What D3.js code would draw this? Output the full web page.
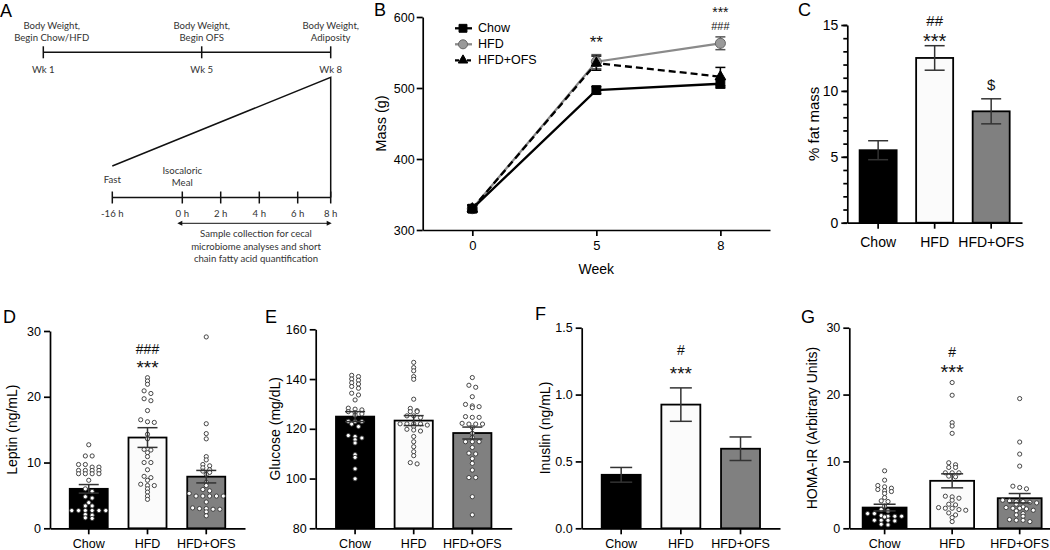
<!DOCTYPE html>
<html><head><meta charset="utf-8">
<script src="https://cdn.jsdelivr.net/npm/d3@7"></script>
<style>body{margin:0;background:#fff}svg{display:block}</style>
</head><body><svg id="c" width="1050" height="550"></svg>
<script>
// ---------------- DATA ----------------
const groups = ["Chow", "HFD", "HFD+OFS"];

// Panel A (study design)
const weekMarks = [1, 5, 8];
const weekTopText = [["Body Weight,", "Begin Chow/HFD"], ["Body Weight,", "Begin OFS"], ["Body Weight,", "Adiposity"]];
const hourMarks = [-16, 0, 2, 4, 6, 8];
const sampleText = ["Sample collection for cecal", "microbiome analyses and short", "chain fatty acid quantification"];

// Panel B (body mass)
const weeks = ["0", "5", "8"];
const massChow = [330, 497, 506], massChowSem = [5, 5, 6];
const massHFD = [330, 537, 563], massHFDSem = [5, 10, 9];
const massOFS = [330, 535, 516], massOFSSem = [5, 10, 13];
const massTicks = [300, 400, 500, 600];

// Panel C (% fat mass)
const fatMean = [5.5, 12.5, 8.45], fatSem = [0.72, 0.93, 0.95];
const fatTicks = [0, 5, 10, 15];

// Panel D (leptin)
const leptinMean = [6.0, 13.8, 7.85], leptinSem = [0.65, 1.5, 0.95];
const leptinChow = [12.7, 11.0, 11.0, 9.7, 9.7, 9.3, 9.3, 8.8, 8.8, 8.8, 8.8, 8.3, 8.3, 8.3, 8.3, 7.3, 6.0, 5.6, 4.8, 4.6, 3.9, 3.4, 3.4, 2.7, 2.7, 2.7, 2.7, 2.7, 2.7, 2.1, 2.0, 1.6, 1.5];
const leptinHFD = [22.9, 22.4, 21.9, 20.9, 20.5, 19.7, 19.4, 17.9, 16.5, 16.2, 16.1, 14.3, 13.6, 12.0, 11.9, 11.5, 10.9, 10.0, 10.0, 8.9, 7.9, 7.7, 7.3, 6.7, 6.5, 6.5, 6.0, 5.5, 4.9, 4.4];
const leptinOFS = [29.1, 15.9, 14.4, 13.6, 10.9, 10.4, 9.7, 9.5, 9.2, 8.9, 8.7, 8.5, 8.2, 7.0, 6.5, 5.9, 5.7, 5.3, 4.9, 4.9, 4.9, 4.9, 4.9, 4.0, 3.1, 3.0, 3.0, 2.9, 2.9, 2.5, 1.9];
const leptinTicks = [0, 10, 20, 30];

// Panel E (glucose)
const glucoseMean = [124.9, 123.3, 118.3], glucoseSem = [2.0, 2.0, 2.4];
const glucoseChow = [141.5, 141, 140, 139.5, 138.5, 138, 137, 136.3, 134.3, 133.6, 131.6, 128.3, 127.9, 127.6, 126.9, 126.5, 126, 125.5, 123, 122.9, 122.9, 121.9, 120.9, 117.3, 116.9, 116.3, 115.6, 114.3, 109.6, 108.5, 103.9, 99.9];
const glucoseHFD = [146.7, 144.6, 143.3, 141, 139.9, 131.9, 128.2, 127.3, 126.9, 126.9, 125.2, 125.2, 124.5, 122, 122, 121.5, 122, 122, 120.9, 119.8, 119.5, 119.1, 116.9, 114.8, 112.8, 110.8, 109.2, 106.4, 105.9];
const glucoseOFS = [140.6, 137.5, 136.7, 132.9, 129.8, 129.2, 128.9, 128.5, 124.9, 124.6, 124.6, 122.2, 121.9, 121.9, 121.9, 120.5, 118.2, 116.5, 114.8, 114.8, 114.8, 112.5, 110.2, 109.9, 108, 106.1, 103.4, 100.4, 100.4, 92.7, 85.4];
const glucoseTicks = [80, 100, 120, 140, 160];

// Panel F (insulin)
const insulinMean = [0.40, 0.925, 0.595], insulinSem = [0.055, 0.125, 0.088];
const insulinTicks = [0, 0.5, 1.0, 1.5];

// Panel G (HOMA-IR)
const homaMean = [3.1, 7.1, 4.5], homaSem = [0.5, 1.05, 0.7];
const homaChow = [8.6, 7.2, 6.4, 6.2, 6.0, 5.8, 5.6, 5.5, 5.2, 4.6, 4.1, 4.0, 3.3, 2.8, 2.6, 2.2, 2.2, 1.9, 1.8, 1.8, 1.8, 1.7, 1.2, 1.2, 1.2, 1.1, 0.6, 0.5];
const homaHFD = [21.8, 19.9, 15.8, 15.3, 14.2, 9.8, 9.5, 9.1, 9.1, 8.3, 8.3, 8.3, 7.8, 7.7, 4.8, 4.7, 4.5, 4.2, 3.6, 3.5, 3.1, 3.0, 3.0, 2.8, 2.7, 2.3, 2.0, 1.6, 1.0];
const homaOFS = [19.4, 12.9, 11.1, 9.3, 6.3, 6.1, 5.9, 4.2, 4.1, 4.0, 4.0, 3.9, 3.8, 3.6, 3.2, 3.1, 3.0, 3.0, 2.9, 2.7, 2.6, 2.2, 2.0, 1.8, 1.3, 1.2, 1.2, 1.0];
const homaTicks = [0, 10, 20, 30];

// ---------------- DRAWING ----------------
const FONT = '"Liberation Sans", Arial, Helvetica, sans-serif';
const AFONT = 'Lato, "Open Sans", sans-serif';
const svg = d3.select("#c");
const barFills = ["#000000", "#fbfbfb", "#808080"];

function styleAxis(g, fs) {
  g.attr("font-family", FONT).attr("font-size", fs);
  g.selectAll("path,line").attr("stroke", "#000").attr("stroke-width", 1.7);
  g.selectAll("text").attr("fill", "#000");
}
function ylabel(x, yc, txt, fs) {
  svg.append("text").attr("transform", `translate(${x},${yc}) rotate(-90)`)
    .attr("text-anchor", "middle").attr("dominant-baseline", "central")
    .attr("font-family", FONT).attr("font-size", fs).attr("fill", "#000").text(txt);
}
function letter(x, y, t) {
  svg.append("text").attr("x", x).attr("y", y).attr("font-family", FONT)
    .attr("font-size", 18).attr("fill", "#000").text(t);
}
function annot(x, yc, txt, fs, k) {
  svg.append("text").attr("x", x).attr("y", yc + k * fs).attr("text-anchor", "middle")
    .attr("font-family", FONT).attr("font-size", fs).attr("fill", "#111").text(txt);
}
function swarm(vals, y, cx, thr, step) {
  const pts = vals.map(v => ({ v, y: y(v) })).sort((a, b) => a.y - b.y);
  const rows = []; let cur = null;
  pts.forEach(p => { if (!cur || p.y - cur.y0 > thr) { cur = { y0: p.y, items: [] }; rows.push(cur); } cur.items.push(p); });
  rows.forEach(r => { const n = r.items.length; r.items.forEach((p, i) => p.x = cx + (i - (n - 1) / 2) * step); });
  return pts;
}

function barPanel(c) {
  const x = d3.scaleBand().domain(groups).range([c.x0, c.x1]).paddingInner(c.pi).paddingOuter(c.po);
  const y = d3.scaleLinear().domain(c.domain).range([c.yb, c.yt]);
  const g = svg.append("g");
  g.selectAll("rect").data(groups).join("rect")
    .attr("x", d => x(d)).attr("width", x.bandwidth())
    .attr("y", (d, i) => y(c.means[i])).attr("height", (d, i) => y(c.domain[0]) - y(c.means[i]))
    .attr("fill", (d, i) => barFills[i]).attr("stroke", "#000").attr("stroke-width", 1.8);
  if (c.points) {
    c.points.forEach((vals, gi) => {
      const pts = swarm(vals, y, x(groups[gi]) + x.bandwidth() / 2, c.thr || 3, c.step || 6.8);
      g.append("g").selectAll("circle").data(pts).join("circle")
        .attr("cx", d => d.x).attr("cy", d => d.y).attr("r", c.r || 2.1)
        .attr("fill", "#fff").attr("stroke", "#333").attr("stroke-width", 0.9);
    });
  }
  const eb = g.append("g").attr("stroke", "#333").attr("stroke-width", 1.5);
  groups.forEach((gr, i) => {
    const cx = x(gr) + x.bandwidth() / 2, m = c.means[i], s = c.sems[i], hw = c.cap || 10;
    eb.append("line").attr("x1", cx).attr("x2", cx).attr("y1", y(m - s)).attr("y2", y(m + s));
    eb.append("line").attr("x1", cx - hw).attr("x2", cx + hw).attr("y1", y(m + s)).attr("y2", y(m + s));
    eb.append("line").attr("x1", cx - hw).attr("x2", cx + hw).attr("y1", y(m - s)).attr("y2", y(m - s));
  });
  if (c.minor) {
    const mg = svg.append("g").attr("transform", `translate(${c.x0},0)`)
      .call(d3.axisLeft(y).tickValues(c.minor).tickSize(4).tickFormat(""));
    styleAxis(mg, c.fs); mg.select("path").remove();
  }
  const ya = svg.append("g").attr("transform", `translate(${c.x0},0)`)
    .call(d3.axisLeft(y).tickValues(c.ticks).tickSize(6).tickSizeOuter(0).tickPadding(c.ypad || 3).tickFormat(c.fmt || d3.format("d")));
  styleAxis(ya, c.fs);
  const xa = svg.append("g").attr("transform", `translate(0,${c.yb})`)
    .call(d3.axisBottom(x).tickSize(6).tickSizeOuter(0).tickPadding(c.xpad || 4.5));
  styleAxis(xa, c.fs);
  ylabel(c.lx, (c.yb + c.yt) / 2, c.label, c.lfs || 14);
  return { x, y };
}

// ---- Panel A ----
(function () {
  const wk = d3.scaleLinear().domain(weekMarks).range([43.3, 201.7, 330.7]);
  const hr = d3.scaleLinear().domain(hourMarks).range([112.3, 182.3, 220.7, 259.3, 297.7, 330.7]);
  const g = svg.append("g").attr("font-family", AFONT).attr("font-size", 9.6).attr("fill", "#333");
  const ln = g.append("g").attr("stroke", "#111").attr("stroke-width", 1.5).attr("fill", "none");
  const topY = 52.3, botY = 197.5;
  const topTextShift = [8.4, 0, 0];
  ln.append("line").attr("x1", wk(1)).attr("x2", wk(8)).attr("y1", topY).attr("y2", topY);
  weekMarks.forEach((w, i) => {
    ln.append("line").attr("x1", wk(w)).attr("x2", wk(w)).attr("y1", topY - 6).attr("y2", topY + 6);
    g.append("text").attr("x", wk(w)).attr("y", 73).attr("text-anchor", "middle").text("Wk " + w);
    weekTopText[i].forEach((t, j) => g.append("text").attr("x", wk(w) + topTextShift[i]).attr("y", 28.5 + j * 12).attr("text-anchor", "middle").text(t));
  });
  ln.append("line").attr("x1", hr(-16)).attr("x2", hr(8)).attr("y1", botY).attr("y2", botY);
  hourMarks.forEach(h => {
    ln.append("line").attr("x1", hr(h)).attr("x2", hr(h)).attr("y1", botY - 6).attr("y2", botY + 6);
    g.append("text").attr("x", hr(h)).attr("y", 217).attr("text-anchor", "middle").text(h + " h");
  });
  ln.append("path").attr("d", `M${hr(-16)},166 L${wk(8)},77.3 L${wk(8)},${botY}`);
  g.append("text").attr("x", hr(-16)).attr("y", 183).attr("text-anchor", "middle").text("Fast");
  g.append("text").attr("x", hr(0)).attr("y", 173.5).attr("text-anchor", "middle").text("Isocaloric");
  g.append("text").attr("x", hr(0)).attr("y", 186).attr("text-anchor", "middle").text("Meal");
  const ay = 223.3, ax0 = hr(0) - 5, ax1 = hr(8) + 1;
  ln.append("line").attr("x1", ax0 + 2).attr("x2", ax1 - 2).attr("y1", ay).attr("y2", ay).attr("stroke-width", 1);
  g.append("path").attr("d", `M${ax0},${ay} l5,-2.5 l0,5 z`).attr("fill", "#111");
  g.append("path").attr("d", `M${ax1},${ay} l-5,-2.5 l0,5 z`).attr("fill", "#111");
  sampleText.forEach((t, j) => g.append("text").attr("x", 256).attr("y", 237 + j * 12.5).attr("text-anchor", "middle").text(t));
  letter(0, 17, "A");
})();

// ---- Panel B ----
(function () {
  const x = d3.scalePoint().domain(weeks).range([422.7, 770]).padding(0.4);
  const y = d3.scaleLinear().domain([300, 600]).range([230, 17]);
  const series = [
    { name: "HFD", m: massHFD, s: massHFDSem, color: "#8a8a8a", dash: null, sym: d3.symbolCircle, size: 80, fill: "#9a9a9a", stroke: "#666", ebc: "#555" },
    { name: "Chow", m: massChow, s: massChowSem, color: "#000", dash: null, sym: d3.symbolSquare, size: 78, fill: "#000", stroke: "#000", ebc: "#000" },
    { name: "HFD+OFS", m: massOFS, s: massOFSSem, color: "#000", dash: "7,4", sym: d3.symbolTriangle, size: 48, fill: "#000", stroke: "#000", ebc: "#000" }
  ];
  const line = d3.line().x((d, i) => x(weeks[i])).y(d => y(d));
  series.forEach(s => {
    svg.append("path").attr("d", line(s.m)).attr("fill", "none").attr("stroke", s.color)
      .attr("stroke-width", 2.3).attr("stroke-dasharray", s.dash);
  });
  series.forEach(s => {
    const eb = svg.append("g").attr("stroke", s.ebc).attr("stroke-width", 1.5);
    s.m.forEach((v, i) => {
      const cx = x(weeks[i]);
      eb.append("line").attr("x1", cx).attr("x2", cx).attr("y1", y(v - s.s[i])).attr("y2", y(v + s.s[i]));
      [v - s.s[i], v + s.s[i]].forEach(e => eb.append("line").attr("x1", cx - 5).attr("x2", cx + 5).attr("y1", y(e)).attr("y2", y(e)));
    });
  });
  series.forEach(s => {
    svg.append("g").selectAll("path").data(s.m).join("path")
      .attr("transform", (d, i) => `translate(${x(weeks[i])},${y(d)})`)
      .attr("d", d3.symbol(s.sym, s.size)).attr("fill", s.fill).attr("stroke", s.stroke).attr("stroke-width", 1);
  });
  const ya = svg.append("g").attr("transform", "translate(422.7,0)")
    .call(d3.axisLeft(y).tickValues(massTicks).tickSize(6).tickSizeOuter(0).tickPadding(2));
  styleAxis(ya, 12.5);
  const xa = svg.append("g").attr("transform", "translate(0,230)")
    .call(d3.axisBottom(x).tickSize(6).tickSizeOuter(0).tickPadding(4.5));
  styleAxis(xa, 13);
  svg.append("text").attr("x", x("5")).attr("y", 274).attr("text-anchor", "middle")
    .attr("font-family", FONT).attr("font-size", 14).text("Week");
  ylabel(381, 123.5, "Mass (g)", 14.5);
  letter(374, 16, "B");
  const order = [series[1], series[0], series[2]];
  order.forEach((s, i) => {
    const ly = 28.3 + i * 16;
    svg.append("line").attr("x1", 455).attr("x2", 472).attr("y1", ly).attr("y2", ly)
      .attr("stroke", s.color).attr("stroke-width", 2.3).attr("stroke-dasharray", s.dash ? "4,2" : null);
    svg.append("path").attr("transform", `translate(463,${ly})`).attr("d", d3.symbol(s.sym, s.size * 0.8))
      .attr("fill", s.fill).attr("stroke", s.stroke);
    svg.append("text").attr("x", 478).attr("y", ly).attr("dominant-baseline", "central")
      .attr("font-family", FONT).attr("font-size", 12.5).text(s.name);
  });
  annot(x("5"), 38.3, "**", 17, 0.57);
  annot(x("8"), 9, "***", 14, 0.57);
  annot(x("8"), 26, "###", 11, 0.35);
})();

// ---- Panel C ----
(function () {
  const r = barPanel({ x0: 847.3, x1: 1022, pi: 0.345, po: 0.218, yb: 222.7, yt: 25, domain: [0, 15],
    means: fatMean, sems: fatSem, ticks: fatTicks, minor: d3.range(0, 16), fs: 14, xpad: 8, ypad: 3,
    lx: 813, label: "% fat mass", lfs: 15, cap: 10 });
  letter(798, 16, "C");
  const cx = i => r.x(groups[i]) + r.x.bandwidth() / 2;
  annot(cx(1), 20.7, "##", 15, 0.35);
  annot(cx(1), 36.7, "***", 20, 0.57);
  annot(cx(2), 85, "$", 15, 0.35);
})();

// ---- Panel D ----
(function () {
  const r = barPanel({ x0: 50, x1: 245, pi: 0.353, po: 0.336, yb: 528.3, yt: 331, domain: [0, 30],
    means: leptinMean, sems: leptinSem, ticks: leptinTicks, points: [leptinChow, leptinHFD, leptinOFS],
    fs: 12.5, lx: 12, label: "Leptin (ng/mL)", cap: 10 });
  letter(3, 323, "D");
  const cx = i => r.x(groups[i]) + r.x.bandwidth() / 2;
  annot(cx(1), 349, "###", 14, 0.35);
  annot(cx(1), 363.3, "***", 19, 0.57);
})();

// ---- Panel E ----
(function () {
  barPanel({ x0: 315.7, x1: 511.7, pi: 0.348, po: 0.346, yb: 528.3, yt: 329.3, domain: [80, 160],
    means: glucoseMean, sems: glucoseSem, ticks: glucoseTicks, points: [glucoseChow, glucoseHFD, glucoseOFS],
    fs: 12.5, lx: 275, label: "Glucose (mg/dL)", cap: 10, thr: 2.6 });
  letter(265, 323, "E");
})();

// ---- Panel F ----
(function () {
  const r = barPanel({ x0: 581.7, x1: 780, pi: 0.347, po: 0.335, yb: 528.3, yt: 327.7, domain: [0, 1.5],
    means: insulinMean, sems: insulinSem, ticks: insulinTicks, fmt: d3.format(".1f"),
    fs: 12.5, lx: 545, label: "Inuslin (ng/mL)", cap: 11 });
  letter(535, 320, "F");
  const cx = i => r.x(groups[i]) + r.x.bandwidth() / 2;
  annot(cx(1), 350, "#", 14, 0.35);
  annot(cx(1), 369.3, "***", 19, 0.57);
})();

// ---- Panel G ----
(function () {
  const r = barPanel({ x0: 849.3, x1: 1055, pi: 0.35, po: 0.198, yb: 528.3, yt: 327.7, domain: [0, 30],
    means: homaMean, sems: homaSem, ticks: homaTicks, points: [homaChow, homaHFD, homaOFS],
    fs: 12.5, lx: 811.7, label: "HOMA-IR (Arbitrary Units)", cap: 11 });
  letter(801, 323, "G");
  const cx = i => r.x(groups[i]) + r.x.bandwidth() / 2;
  annot(cx(1), 351.7, "#", 14, 0.35);
  annot(cx(1), 367.3, "***", 20, 0.57);
})();
</script></body></html>
